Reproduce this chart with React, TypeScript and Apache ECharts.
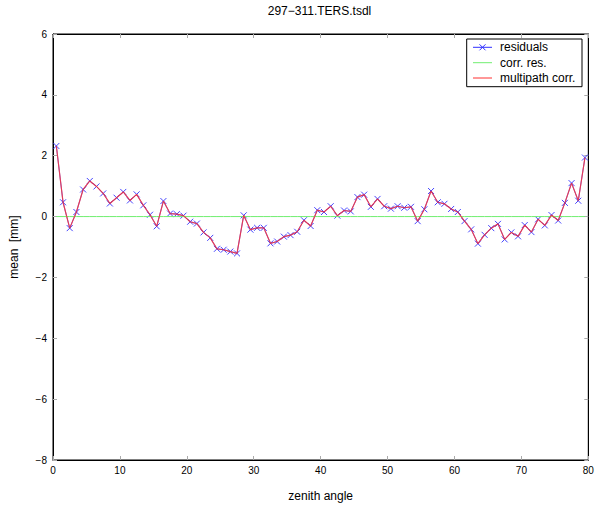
import React, { useEffect, useRef } from "react";
import * as echarts from "echarts";

const zenithAngles = [
  0.5, 1.5, 2.5, 3.5, 4.5, 5.5, 6.5, 7.5, 8.5, 9.5,
  10.5, 11.5, 12.5, 13.5, 14.5, 15.5, 16.5, 17.5, 18.5, 19.5,
  20.5, 21.5, 22.5, 23.5, 24.5, 25.5, 26.5, 27.5, 28.5, 29.5,
  30.5, 31.5, 32.5, 33.5, 34.5, 35.5, 36.5, 37.5, 38.5, 39.5,
  40.5, 41.5, 42.5, 43.5, 44.5, 45.5, 46.5, 47.5, 48.5, 49.5,
  50.5, 51.5, 52.5, 53.5, 54.5, 55.5, 56.5, 57.5, 58.5, 59.5,
  60.5, 61.5, 62.5, 63.5, 64.5, 65.5, 66.5, 67.5, 68.5, 69.5,
  70.5, 71.5, 72.5, 73.5, 74.5, 75.5, 76.5, 77.5, 78.5, 79.5,
];

const residuals = [
  2.32, 0.47, -0.38, 0.15, 0.89, 1.17, 0.99, 0.76, 0.43, 0.62,
  0.81, 0.53, 0.73, 0.37, 0.06, -0.32, 0.51, 0.1, 0.08, 0.03,
  -0.17, -0.23, -0.52, -0.7, -1.06, -1.09, -1.15, -1.21, 0.04, -0.43,
  -0.37, -0.37, -0.88, -0.82, -0.66, -0.61, -0.5, -0.12, -0.31, 0.21,
  0.15, 0.34, 0.03, 0.2, 0.17, 0.64, 0.72, 0.32, 0.58, 0.34,
  0.26, 0.34, 0.29, 0.32, -0.15, 0.24, 0.84, 0.47, 0.42, 0.25,
  0.15, -0.15, -0.42, -0.89, -0.6, -0.38, -0.24, -0.75, -0.52, -0.65,
  -0.28, -0.51, -0.09, -0.29, 0.05, -0.13, 0.45, 1.1, 0.52, 1.94,
];

const corrRes = [
  0, 0, 0, 0, 0, 0, 0, 0, 0, 0,
  0, 0, 0, 0, 0, 0, 0, 0, 0, 0,
  0, 0, 0, 0, 0, 0, 0, 0, 0, 0,
  0, 0, 0, 0, 0, 0, 0, 0, 0, 0,
  0, 0, 0, 0, 0, 0, 0, 0, 0, 0,
  0, 0, 0, 0, 0, 0, 0, 0, 0, 0,
  0, 0, 0, 0, 0, 0, 0, 0, 0, 0,
  0, 0, 0, 0, 0, 0, 0, 0, 0, 0,
];

const multipathCorr = [
  2.32, 0.47, -0.38, 0.15, 0.89, 1.17, 0.99, 0.76, 0.43, 0.62,
  0.81, 0.53, 0.73, 0.37, 0.06, -0.32, 0.51, 0.1, 0.08, 0.03,
  -0.17, -0.23, -0.52, -0.7, -1.06, -1.09, -1.15, -1.21, 0.04, -0.43,
  -0.37, -0.37, -0.88, -0.82, -0.66, -0.61, -0.5, -0.12, -0.31, 0.21,
  0.15, 0.34, 0.03, 0.2, 0.17, 0.64, 0.72, 0.32, 0.58, 0.34,
  0.26, 0.34, 0.29, 0.32, -0.15, 0.24, 0.84, 0.47, 0.42, 0.25,
  0.15, -0.15, -0.42, -0.89, -0.6, -0.38, -0.24, -0.75, -0.52, -0.65,
  -0.28, -0.51, -0.09, -0.29, 0.05, -0.13, 0.45, 1.1, 0.52, 1.94,
];

const seriesNames = ["residuals", "corr. res.", "multipath corr."];
const seriesColors = ["#3030ff", "#70ee70", "#ff3030"];
const titleText = "297\u2212311.TERS.tsdl";
const xAxisName = "zenith angle";
const yAxisName = "mean  [mm]";

const FONT = "'Liberation Sans', Arial, Helvetica, sans-serif";

function pairs(xs: number[], ys: number[]) {
  return xs.map((x, i) => [x, ys[i]]);
}

export default function App() {
  const ref = useRef<HTMLDivElement>(null);

  useEffect(() => {
    if (!ref.current) return;
    const chart = echarts.init(ref.current, null, { renderer: "svg" });

    const G = { left: 50.7, right: 11.7, top: 34, bottom: 44.7 };
    const plotCx = G.left + (600 - G.left - G.right) / 2;

    const tickStyle = { show: true, inside: true, length: 4, lineStyle: { color: "#aaaaaa", width: 1 } };
    const axisLine = { show: true, onZero: false, lineStyle: { color: "#000", width: 1 } };

    const lgX = 466.7;
    const lgY = 39;
    const lgW = 115.3;
    const lgH = 47.7;
    const rows = [47.3, 62.7, 78];
    const legendChildren: any[] = [
      {
        type: "rect",
        shape: { x: lgX, y: lgY, width: lgW, height: lgH },
        style: { fill: "#fff", stroke: "#000", lineWidth: 1 },
      },
    ];
    seriesNames.forEach((name, i) => {
      const y = rows[i];
      legendChildren.push({
        type: "line",
        shape: { x1: 473, y1: y, x2: 492, y2: y },
        style: { stroke: seriesColors[i], lineWidth: 1 },
      });
      legendChildren.push({
        type: "text",
        x: 500,
        y: y,
        style: { text: name, fill: "#000", font: `12px ${FONT}`, textVerticalAlign: "middle" },
      });
    });
    const mx = 482.5;
    const my = rows[0];
    legendChildren.push({
      type: "line",
      shape: { x1: mx - 3, y1: my - 3, x2: mx + 3, y2: my + 3 },
      style: { stroke: seriesColors[0], lineWidth: 1 },
    });
    legendChildren.push({
      type: "line",
      shape: { x1: mx - 3, y1: my + 3, x2: mx + 3, y2: my - 3 },
      style: { stroke: seriesColors[0], lineWidth: 1 },
    });

    chart.setOption({
      animation: false,
      backgroundColor: "#fff",
      textStyle: { fontFamily: FONT },
      grid: { ...G, show: true, borderColor: "#000", borderWidth: 1, backgroundColor: "#fff" },
      xAxis: [
        {
          type: "value",
          min: 0,
          max: 80,
          interval: 10,
          position: "bottom",
          name: xAxisName,
          nameLocation: "middle",
          nameGap: 30,
          nameTextStyle: { fontSize: 12, color: "#000", fontFamily: FONT },
          axisLine,
          axisTick: tickStyle,
          axisLabel: { fontSize: 10, color: "#000", margin: 5, fontFamily: FONT },
          splitLine: { show: false },
        },
        {
          type: "value",
          min: 0,
          max: 80,
          interval: 10,
          position: "top",
          axisLine,
          axisTick: tickStyle,
          axisLabel: { show: false },
          splitLine: { show: false },
        },
      ],
      yAxis: [
        {
          type: "value",
          min: -8,
          max: 6,
          interval: 2,
          position: "left",
          name: yAxisName,
          nameLocation: "middle",
          nameGap: 33,
          nameTextStyle: { fontSize: 12, color: "#000", fontFamily: FONT },
          axisLine,
          axisTick: tickStyle,
          axisLabel: {
            fontSize: 10,
            color: "#000",
            margin: 6,
            fontFamily: FONT,
            formatter: (v: number) => (v < 0 ? "\u2212" + Math.abs(v) : String(v)),
          },
          splitLine: { show: false },
        },
        {
          type: "value",
          min: -8,
          max: 6,
          interval: 2,
          position: "right",
          axisLine,
          axisTick: tickStyle,
          axisLabel: { show: false },
          splitLine: { show: false },
        },
      ],
      series: [
        {
          name: seriesNames[0],
          type: "line",
          data: pairs(zenithAngles, residuals),
          symbol: "path://M0,0L10,10M10,0L0,10",
          symbolSize: 6,
          showAllSymbol: true,
          itemStyle: { color: "transparent", borderColor: seriesColors[0], borderWidth: 0.9 },
          lineStyle: { color: seriesColors[0], width: 0.8 },
          silent: true,
          emphasis: { disabled: true },
          z: 2,
        },
        {
          name: seriesNames[1],
          type: "line",
          data: pairs(zenithAngles, corrRes),
          symbol: "none",
          lineStyle: { color: seriesColors[1], width: 1 },
          silent: true,
          emphasis: { disabled: true },
          z: 3,
        },
        {
          name: seriesNames[2],
          type: "line",
          data: pairs(zenithAngles, multipathCorr),
          symbol: "none",
          lineStyle: { color: seriesColors[2], width: 1.2, opacity: 0.8 },
          silent: true,
          emphasis: { disabled: true },
          z: 4,
        },
      ],
      graphic: [
        {
          type: "text",
          x: plotCx,
          y: 11,
          style: {
            text: titleText,
            fill: "#000",
            font: `12px ${FONT}`,
            textAlign: "center",
            textVerticalAlign: "middle",
          },
          z: 10,
        },
        { type: "group", children: legendChildren, z: 100 },
      ],
    });

    return () => chart.dispose();
  }, []);

  return (
    <div
      ref={ref}
      style={{ position: "absolute", left: 0, top: 0, width: 600, height: 507 }}
    />
  );
}
